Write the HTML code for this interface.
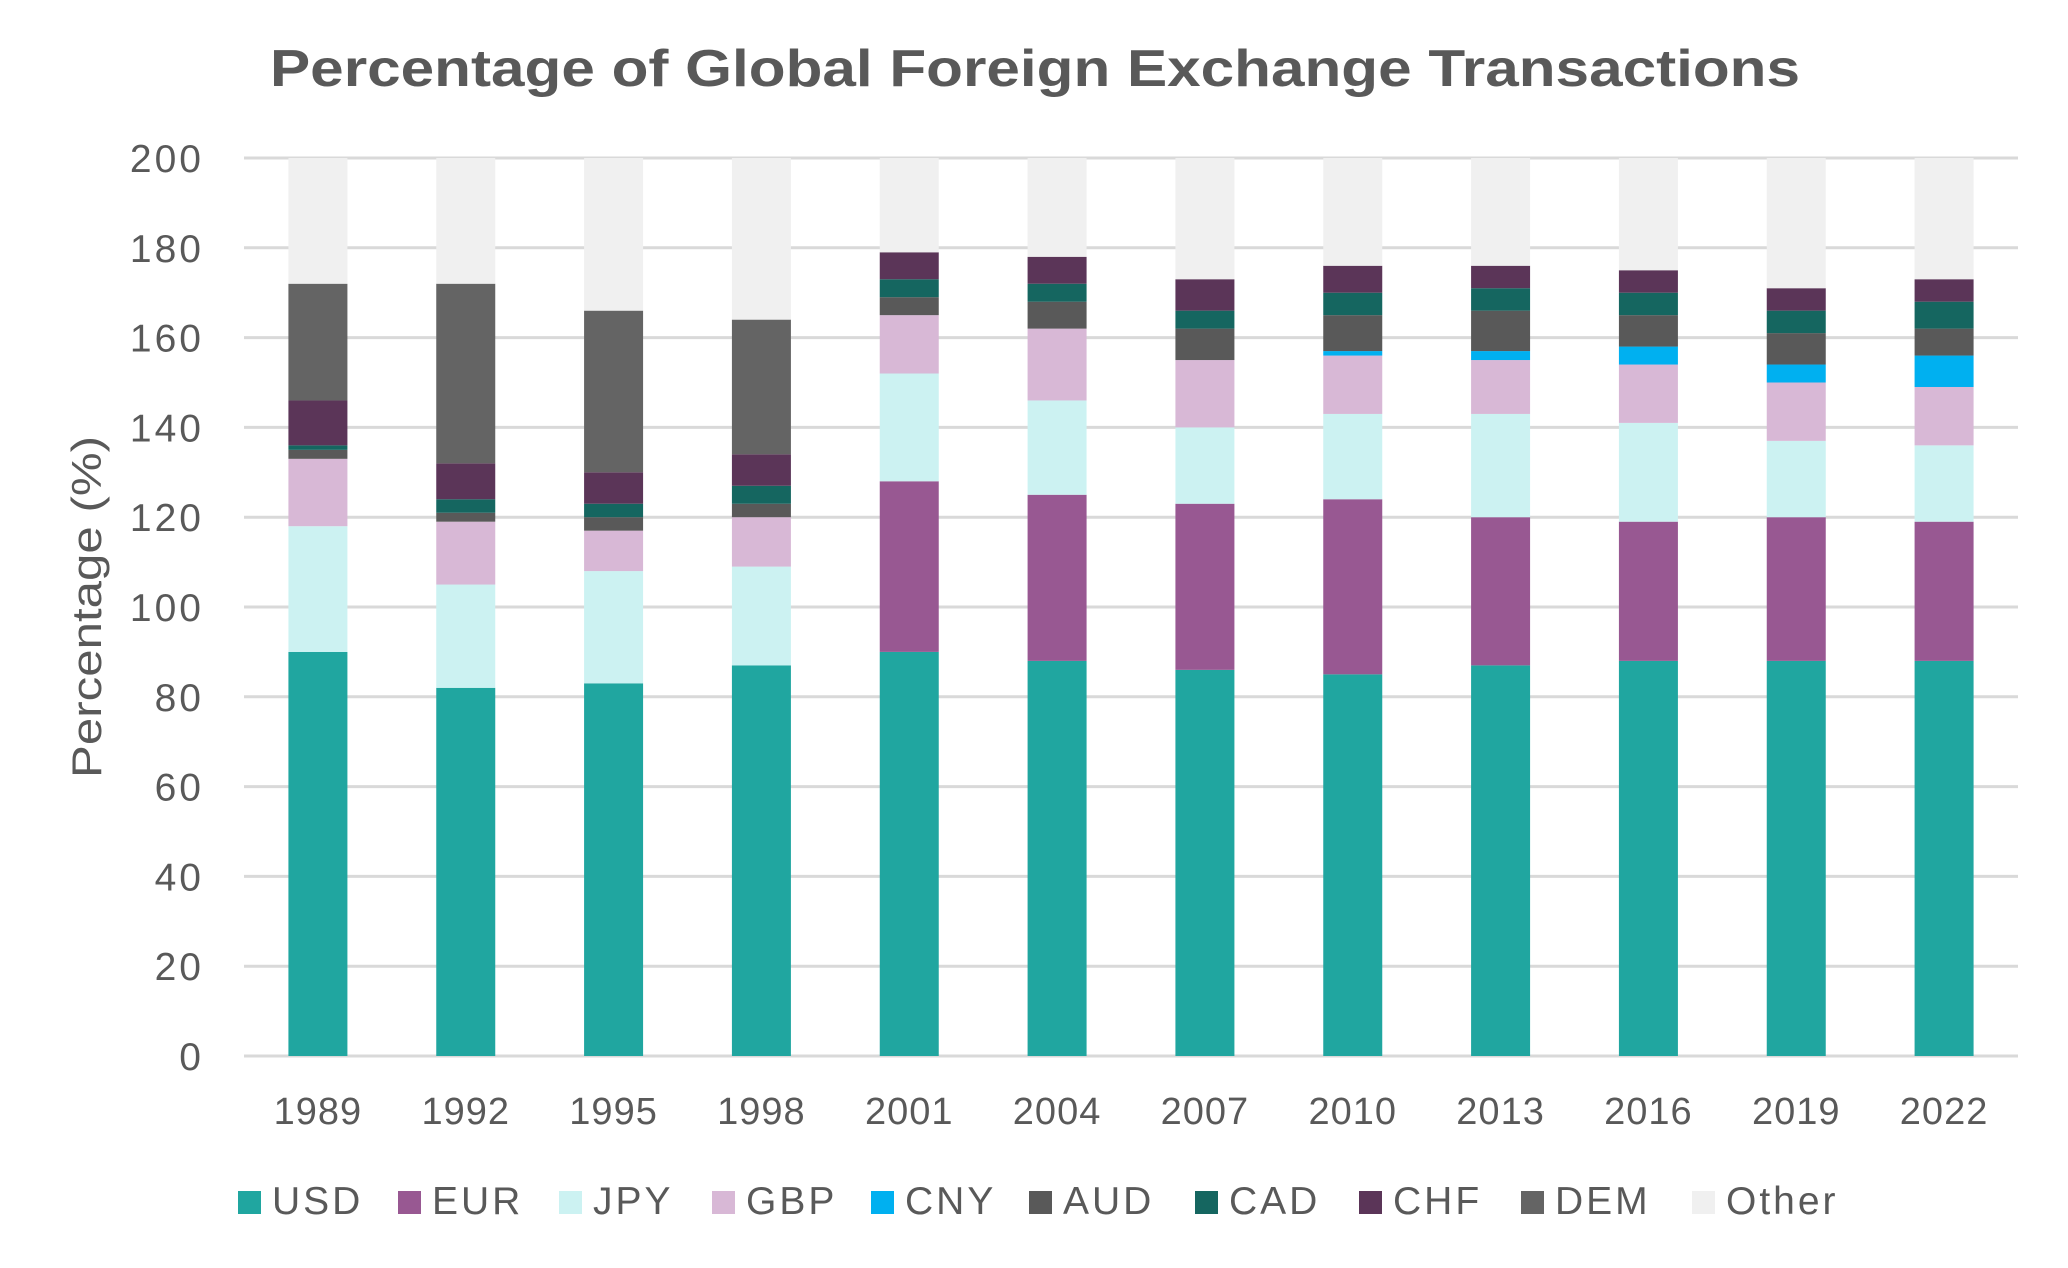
<!DOCTYPE html>
<html><head><meta charset="utf-8"><style>
html,body{margin:0;padding:0;background:#fff;width:2068px;height:1268px;overflow:hidden}
svg text{font-family:"Liberation Sans",sans-serif;fill:#595959}
</style></head><body>
<svg id="chart" width="2068" height="1268" viewBox="0 0 2068 1268" xmlns="http://www.w3.org/2000/svg">
<text x="270" y="86" font-size="52" font-weight="bold" textLength="1530" lengthAdjust="spacingAndGlyphs">Percentage of Global Foreign Exchange Transactions</text>
<text transform="translate(101,607) rotate(-90)" text-anchor="middle" font-size="42" textLength="342" lengthAdjust="spacingAndGlyphs">Percentage (%)</text>
<g id="grid"></g><g id="bars"></g><g id="labels"></g><g id="legend"></g>
</svg>
<script>
const years=["1989","1992","1995","1998","2001","2004","2007","2010","2013","2016","2019","2022"];
const seriesNames=["USD","EUR","JPY","GBP","CNY","AUD","CAD","CHF","DEM","Other"];
const usd=[90,82,83,87,90,88,86,85,87,88,88,88];
const eur=[0,0,0,0,38,37,37,39,33,31,32,31];
const jpy=[28,23,25,22,24,21,17,19,23,22,17,17];
const gbp=[15,14,9,11,13,16,15,13,12,13,13,13];
const cny=[0,0,0,0,0,0,0,1,2,4,4,7];
const aud=[2,2,3,3,4,6,7,8,9,7,7,6];
const cad=[1,3,3,4,4,4,4,5,5,5,5,6];
const chf=[10,8,7,7,6,6,7,6,5,5,5,5];
const dem=[26,40,36,30,0,0,0,0,0,0,0,0];
const other=[28,28,34,36,21,22,27,24,24,25,29,27];
const yTicks=[0,20,40,60,80,100,120,140,160,180,200];
const colors=["#20a6a0","#985892","#ccf2f2","#d8b8d6","#00b0f0","#595959","#156660","#5b3558","#646464","#f0f0f0"];
const series=[usd,eur,jpy,gbp,cny,aud,cad,chf,dem,other];
const NS="http://www.w3.org/2000/svg";
const x0=244,x1=2018,y0=1056,yMax=200,plotTop=158;
const step=(x1-x0)/years.length,barW=59;
function yS(v){return y0-(v/yMax)*(y0-plotTop);}
function xC(i){return x0+step*(i+0.5);}
function mk(tag,attrs,parent){const e=document.createElementNS(NS,tag);for(const k in attrs)e.setAttribute(k,attrs[k]);parent.appendChild(e);return e;}
const grid=document.getElementById('grid'),bars=document.getElementById('bars'),labels=document.getElementById('labels'),legend=document.getElementById('legend');
yTicks.forEach(t=>{
  const l=mk('line',{x1:x0,x2:x1,y1:yS(t),y2:yS(t),stroke:"#d9d9d9","stroke-width":3},grid);
  
  
  const tx=mk('text',{x:204,y:yS(t)+14,"text-anchor":"end","font-size":39,"letter-spacing":3},labels);
  tx.textContent=t;
  
  
});
years.forEach((yr,i)=>{
  let acc=0;
  series.forEach((s,k)=>{
    const v=s[i];if(!v){return;}
    const r=mk('rect',{x:xC(i)-barW/2,y:yS(acc+v),width:barW,height:yS(acc)-yS(acc+v),fill:colors[k]},bars);
    
    
    acc+=v;
  });
  const tx=mk('text',{x:xC(i),y:1124,"text-anchor":"middle","font-size":38,"letter-spacing":1},labels);
  tx.textContent=yr;
  
  
});
const legX=[238,398,559,712,871,1029,1195,1359,1521,1692];
seriesNames.forEach((n,k)=>{
  const g=mk('g',{},legend);
  
  
  mk('rect',{x:legX[k],y:1191,width:23,height:23,fill:colors[k]},g);
  const t=mk('text',{x:legX[k]+34,y:1214,"font-size":39,"letter-spacing":3},g);
  t.textContent=n;
});
</script>
</body></html>
